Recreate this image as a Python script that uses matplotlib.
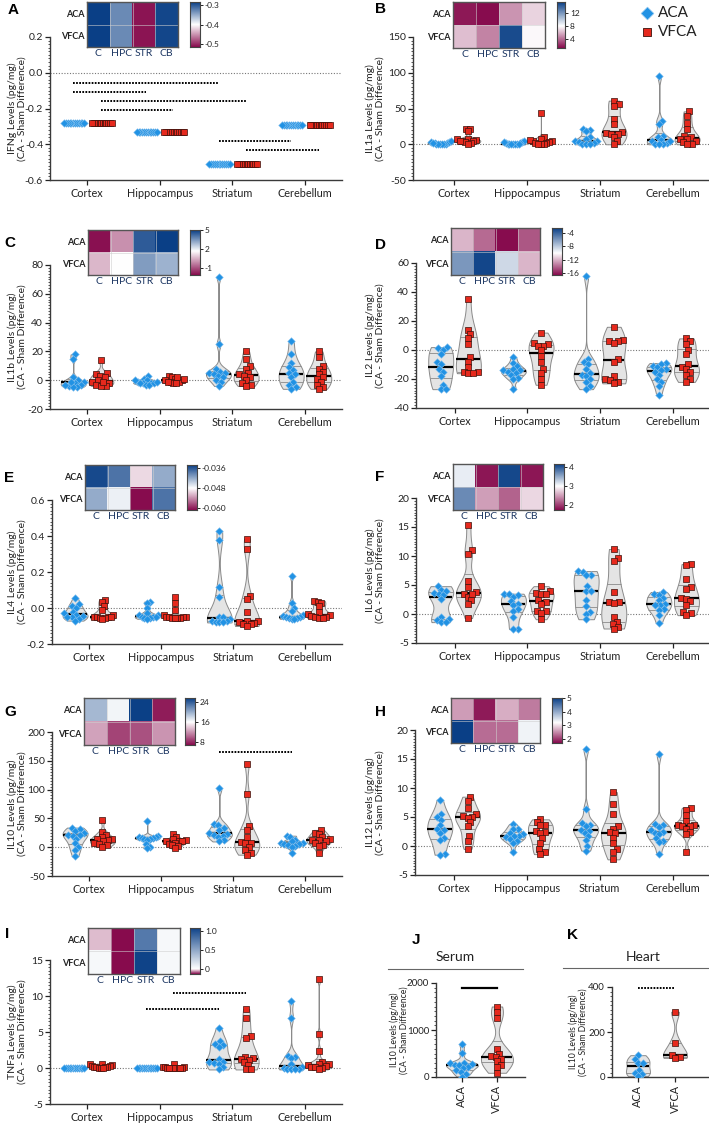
import numpy as np
import matplotlib
matplotlib.use("Agg")
import matplotlib.pyplot as plt
from matplotlib.colors import LinearSegmentedColormap, TwoSlopeNorm
from matplotlib.ticker import AutoMinorLocator

plt.rcParams["font.family"] = ["Lato", "DejaVu Sans"]
plt.rcParams["axes.unicode_minus"] = False

regions = ["Cortex", "Hippocampus", "Striatum", "Cerebellum"]
heat_cols = ["C", "HPC", "STR", "CB"]
heat_rows = ["ACA", "VFCA"]

# A  IFNg (rows = Cortex, Hippocampus, Striatum, Cerebellum)
ifng_aca = [[-0.28, -0.28, -0.28, -0.28, -0.28, -0.28, -0.28, -0.28, -0.28, -0.28, -0.28, -0.28],
            [-0.33, -0.33, -0.33, -0.33, -0.33, -0.33, -0.33, -0.33, -0.33, -0.33, -0.33, -0.33],
            [-0.51, -0.51, -0.51, -0.51, -0.51, -0.51, -0.51, -0.51, -0.51, -0.51, -0.51, -0.51],
            [-0.29, -0.29, -0.29, -0.29, -0.29, -0.29, -0.29, -0.29, -0.29, -0.29, -0.29, -0.29]]
ifng_vfca = [[-0.28, -0.28, -0.28, -0.28, -0.28, -0.28, -0.28, -0.28, -0.28, -0.28, -0.28, -0.28],
             [-0.33, -0.33, -0.33, -0.33, -0.33, -0.33, -0.33, -0.33, -0.33, -0.33, -0.33, -0.33],
             [-0.51, -0.51, -0.51, -0.51, -0.51, -0.51, -0.51, -0.51, -0.51, -0.51, -0.51, -0.51],
             [-0.29, -0.29, -0.29, -0.29, -0.29, -0.29, -0.29, -0.29, -0.29, -0.29, -0.29, -0.29]]
heat_ifng = [[-0.28, -0.33, -0.51, -0.29], [-0.28, -0.33, -0.51, -0.29]]
# group index: 0 C-ACA, 1 C-VFCA, 2 HPC-ACA, 3 HPC-VFCA, 4 STR-ACA, 5 STR-VFCA, 6 CB-ACA, 7 CB-VFCA
sig_ifng = [(0, 4, -0.056), (0, 2, -0.107), (1, 5, -0.159), (1, 3, -0.21), (4, 6, -0.38), (5, 7, -0.43)]

# B  IL1a
il1a_aca = [[0, 1, 2, 3, 1, 0, 2, 4, 1, 3, 0, 2],
            [0, 1, 2, 3, 4, 1, 0, 2, 1, 3, 0, 1],
            [22, 20, 18, 10, 8, 5, 4, 3, 2, 1, 0, 0],
            [95, 33, 29, 12, 10, 6, 4, 2, 1, 0, 0, 5]]
il1a_vfca = [[22, 21, 18, 8, 6, 5, 4, 3, 2, 1, 7, 5],
             [44, 10, 8, 5, 4, 3, 2, 1, 0, 6, 2, 1],
             [61, 56, 54, 35, 28, 17, 16, 15, 14, 10, 5, 0],
             [46, 40, 30, 22, 12, 10, 8, 7, 5, 3, 1, 0]]
heat_il1a = [[1.5, 1.2, 5.0, 6.8], [6.2, 4.5, 15.0, 7.8]]

# C  IL1b
il1b_aca = [[18, 15, 2, 0, -1, -2, -3, -4, -5, -5, -3, -1],
            [3, 1, 0, -1, -2, -2, -3, -3, -2, -1, 0, -2],
            [72, 25, 8, 6, 5, 5, 4, 3, 2, 0, -1, -4],
            [27, 18, 12, 9, 7, 5, 4, 2, -1, -3, -5, -6]]
il1b_vfca = [[14, 5, 4, 3, 2, 0, -1, -2, -3, -4, -4, -1],
             [3, 2, 1, 0, -1, -1, -2, -2, 0, 1, -1, 2],
             [20, 15, 10, 8, 5, 4, 3, 2, 0, -2, -3, -4],
             [20, 16, 10, 8, 6, 4, 2, 1, -1, -3, -5, -6]]
heat_il1b = [[-2.0, 0.0, 4.5, 5.0], [0.6, 1.7, 3.4, 3.0]]

# D  IL2
il2_aca = [[2, 1.5, 0, -3, -8, -10, -13, -15, -18, -24, -27, -27],
           [-5, -9, -11, -13, -14, -14, -15, -16, -17, -19, -20, -27],
           [51, -6, -8, -10, -13, -16, -17, -18, -20, -22, -25, -27],
           [-9, -10, -11, -12, -13, -14, -15, -17, -20, -22, -25, -31]]
il2_vfca = [[35, 14, 11, 8, 4, -5, -8, -12, -15, -15, -16, -16],
            [12, 5, 4, 3, 3, 0, -4, -8, -13, -16, -20, -24],
            [16, 7, 6, 6, 5, -6, -8, -18, -20, -21, -22, -23],
            [8, 6, 4, 0, -3, -10, -12, -13, -15, -17, -20, -22]]
heat_il2 = [[-12.0, -14.0, -16.5, -14.5], [-6.0, -2.8, -8.5, -12.0]]

# E  IL4
il4_aca = [[0.055, 0.02, 0.01, 0.0, -0.02, -0.03, -0.04, -0.045, -0.05, -0.05, -0.06, -0.07],
           [0.035, 0.03, 0.0, -0.03, -0.04, -0.04, -0.05, -0.05, -0.05, -0.055, -0.055, -0.06],
           [0.43, 0.38, 0.115, 0.06, -0.05, -0.05, -0.06, -0.07, -0.07, -0.075, -0.08, -0.08],
           [0.18, 0.03, 0.0, -0.015, -0.04, -0.045, -0.05, -0.05, -0.055, -0.055, -0.06, -0.06]]
il4_vfca = [[0.045, 0.035, 0.01, -0.01, -0.04, -0.05, -0.05, -0.05, -0.05, -0.055, -0.055, -0.06],
            [0.06, 0.03, -0.01, -0.04, -0.05, -0.05, -0.05, -0.05, -0.055, -0.055, -0.055, -0.055],
            [0.385, 0.33, 0.065, 0.05, -0.02, -0.07, -0.07, -0.08, -0.085, -0.09, -0.09, -0.1],
            [0.04, 0.035, 0.03, 0.01, -0.02, -0.035, -0.04, -0.045, -0.05, -0.05, -0.055, -0.055]]
heat_il4 = [[-0.035, -0.038, -0.050, -0.042], [-0.042, -0.047, -0.061, -0.038]]

# F  IL6
il6_aca = [[4.8, 4.2, 4.0, 3.7, 3.5, 3.3, 2.6, -0.5, -0.8, -1.0, -1.4, -1.4],
           [3.5, 3.4, 3.2, 3.0, 2.2, 1.8, 1.5, 0.8, 0.6, -0.5, -2.5, -2.6],
           [7.4, 7.3, 6.8, 6.7, 4.8, 4.0, 4.0, 2.4, 1.4, 0.4, 0.0, -0.9],
           [3.8, 3.4, 3.3, 2.8, 2.4, 1.8, 1.5, 1.5, 0.8, 0.7, -0.2, -1.5]]
il6_vfca = [[15.3, 11.0, 10.4, 5.7, 4.7, 3.8, 3.5, 3.0, 2.4, 1.7, -0.7, 3.4],
            [4.8, 4.0, 3.7, 3.5, 3.5, 2.5, 2.1, 1.8, 0.6, 0.5, 0.2, -0.9],
            [11.2, 9.6, 9.1, 3.8, 2.1, 2.0, 1.9, -0.5, -1.3, -1.7, -2.2, -2.5],
            [8.6, 8.4, 6.0, 4.7, 4.3, 2.8, 2.6, 2.2, 1.6, 0.4, 0.1, -0.2]]
heat_il6 = [[3.1, 1.8, 4.1, 1.8], [3.7, 2.5, 2.2, 2.8]]

# G  IL10
il10_aca = [[34, 31, 28, 24, 22, 21, 20, 15, 7, 1, -5, -16],
            [45, 20, 18, 17, 16, 16, 15, 14, 13, 5, 0, -2],
            [102, 41, 38, 34, 30, 25, 23, 22, 20, 18, 12, 10],
            [20, 18, 13, 10, 8, 7, 6, 5, 4, 2, 0, -10]]
il10_vfca = [[47, 27, 22, 18, 15, 14, 12, 10, 7, 6, 3, 1],
             [23, 18, 14, 12, 11, 10, 10, 8, 6, 4, 2, -2],
             [145, 93, 37, 30, 18, 9, 8, 7, 1, -5, -10, -13],
             [30, 25, 23, 18, 15, 13, 13, 10, 7, 4, 2, -10]]
heat_il10 = [[19.5, 16.5, 25.5, 7.5], [12.5, 9.0, 9.5, 12.0]]
sig_il10 = [(4, 6, 166)]

# H  IL12
il12_aca = [[8.0, 5.5, 5.0, 4.5, 3.7, 3.0, 2.8, 2.3, 1.3, 1.0, -1.4, -1.5],
            [3.8, 3.0, 2.9, 2.2, 2.0, 1.8, 1.7, 1.5, 1.2, 0.9, 0.5, -1.1],
            [16.7, 6.3, 4.0, 3.6, 3.4, 2.8, 2.6, 2.3, 1.7, 1.0, 0.0, -0.8],
            [15.8, 3.8, 3.7, 3.3, 2.8, 2.5, 2.3, 2.0, 1.4, 0.9, 0.7, -1.3]]
il12_vfca = [[8.5, 7.8, 6.6, 5.6, 5.2, 5.0, 4.9, 4.1, 3.4, 1.7, 0.9, -0.5],
             [4.6, 4.1, 3.7, 3.6, 2.6, 2.4, 2.2, 1.4, 0.6, -0.6, -1.1, -1.4],
             [9.3, 7.2, 5.5, 3.4, 3.0, 2.4, 2.2, 1.4, 0.5, -0.5, -1.1, -2.3],
             [6.6, 6.2, 5.3, 4.3, 3.7, 3.6, 3.4, 3.4, 2.9, 2.5, 2.0, -1.0]]
heat_il12 = [[2.6, 1.8, 2.7, 2.4], [5.0, 2.3, 2.3, 3.3]]

# I  TNFa
tnfa_aca = [[0.0, 0.0, 0.0, 0.0, 0.0, 0.0, 0.0, 0.0, 0.0, 0.0, 0.0, 0.0],
            [0.0, 0.0, 0.0, 0.0, 0.0, 0.0, 0.0, 0.0, 0.0, 0.0, 0.0, 0.0],
            [5.5, 3.7, 3.4, 3.2, 2.9, 1.3, 0.9, 0.8, 0.7, 0.6, 0.1, -0.2],
            [9.3, 7.0, 1.7, 1.5, 1.4, 0.5, 0.1, 0.0, -0.1, -0.2, -0.2, -0.2]]
tnfa_vfca = [[0.6, 0.5, 0.4, 0.3, 0.3, 0.2, 0.2, 0.1, 0.1, 0.0, 0.0, 0.0],
             [0.6, 0.2, 0.1, 0.1, 0.0, 0.0, 0.0, 0.0, 0.0, 0.0, 0.0, 0.0],
             [8.2, 6.9, 4.4, 4.2, 1.5, 1.4, 1.2, 1.1, 0.8, 0.4, -0.2, -0.2],
             [12.4, 4.7, 2.4, 0.8, 0.6, 0.5, 0.4, 0.3, 0.2, 0.1, 0.0, -0.2]]
heat_tnfa = [[-0.035, -0.13, 0.75, 0.04], [0.04, -0.13, 1.05, 0.04]]
sig_tnfa = [(3, 5, 10.45), (2, 4, 8.18)]

# J / K  IL10 in serum and heart
serum_aca = [700, 510, 300, 290, 270, 265, 260, 220, 200, 140, 110, 70, 10]
serum_vfca = [1500, 1380, 1260, 590, 500, 440, 430, 380, 330, 260, 210, 90]
heart_aca = [97, 80, 64, 64, 33, 20, 12, 4]
heart_vfca = [290, 150, 100, 90, 85]

W, H = 709, 1124
fig = plt.figure(figsize=(W / 100, H / 100), dpi=100)
ACA_C, ACA_E = "#2192e4", "#8cc4ee"
VF_C, VF_E = "#e6291d", "#3a120c"
cmap = LinearSegmentedColormap.from_list("pw", ["#870b4d", "#ffffff", "#0a3f86"])

ov = fig.add_axes([0, 0, 1, 1])
ov.set_xlim(0, W)
ov.set_ylim(H, 0)
ov.axis("off")


def px_axes(x0, ytop, x1, ybot):
    return fig.add_axes([x0 / W, 1 - ybot / H, (x1 - x0) / W, (ybot - ytop) / H])


def px_per_unit(ax):
    a = ax.transData.transform([[0, 0], [1, 1]])
    return a[1, 0] - a[0, 0]


def violin(ax, x, vals, halfw):
    v = np.asarray(vals, float)
    lo, hi = v.min(), v.max()
    if hi - lo < 1e-12:
        return
    q1, med, q3 = np.percentile(v, [25, 50, 75])
    sd = v.std(ddof=1)
    iqr = (q3 - q1) / 1.34
    sig = min(sd, iqr) if iqr > 0 else sd
    bw = max(1.0 * sig * len(v) ** -0.2, (hi - lo) * 0.04)
    ys = np.linspace(lo, hi, 300)
    dens = np.exp(-0.5 * ((ys[:, None] - v[None, :]) / bw) ** 2).sum(1)
    w = dens / dens.max() * halfw
    ax.fill_betweenx(ys, x - w, x + w, facecolor="#e4e4e4", edgecolor="#8a8a8a", lw=0.7, zorder=1)
    for q, lw, c in [(q1, 0.6, "#8a8a8a"), (q3, 0.6, "#8a8a8a"), (med, 1.6, "black")]:
        wq = np.interp(q, ys, w)
        ax.plot([x - wq, x + wq], [q, q], color=c, lw=lw, zorder=2, solid_capstyle="butt")


def swarm(ax, x, vals, d=4.8, maxw=11.0):
    v = np.asarray(vals, float)
    pts = ax.transData.transform(np.column_stack([np.full_like(v, x), v]))
    ypx = pts[:, 1]
    offs = np.zeros(len(v))
    placed = []
    for i in np.argsort(ypx):
        cands = [0.0]
        for ox, oy in placed:
            dy = ypx[i] - oy
            if abs(dy) < d:
                dx = np.sqrt(d * d - dy * dy)
                cands += [ox + dx, ox - dx]
        cands.sort(key=abs)
        for c in cands:
            if all((c - ox) ** 2 + (ypx[i] - oy) ** 2 >= d * d - 1e-6 for ox, oy in placed):
                offs[i] = c
                break
        placed.append((offs[i], ypx[i]))
    m = np.abs(offs).max()
    if m > maxw:
        offs *= maxw / m
    back = ax.transData.inverted().transform(np.column_stack([pts[:, 0] + offs, ypx]))
    return back[:, 0], v


def style(ax, yticks, fmt, fs=7.5):
    for s in ["top", "right"]:
        ax.spines[s].set_visible(False)
    for s in ["left", "bottom"]:
        ax.spines[s].set_color("#3a3a3a")
        ax.spines[s].set_linewidth(1.0)
    ax.set_yticks(yticks)
    ax.set_yticklabels([fmt.format(t) for t in yticks], fontsize=fs)
    ax.yaxis.set_minor_locator(AutoMinorLocator(10))
    ax.tick_params(axis="y", which="major", length=3.5, width=0.9, pad=1.5, colors="#222")
    ax.tick_params(axis="y", which="minor", length=1.6, width=0.6, color="#3a3a3a")
    ax.tick_params(axis="x", length=3.5, width=0.9, pad=2, colors="#222")
    ax.patch.set_visible(False)


def groups(ax, xs_pairs, halfw_px, maxw):
    pxu = px_per_unit(ax)
    for x, vals, kind in xs_pairs:
        violin(ax, x, vals, halfw_px / pxu)
        xs, ys = swarm(ax, x, vals, maxw=maxw)
        if kind == "aca":
            ax.scatter(xs, ys, marker="D", s=15, c=ACA_C, edgecolors=ACA_E, linewidths=0.4, zorder=3)
        else:
            ax.scatter(xs, ys, marker="s", s=13, c=VF_C, edgecolors=VF_E, linewidths=0.5, zorder=3)


def gx(g):
    return g // 2 + (-0.19 if g % 2 == 0 else 0.19)


def main_panel(rect, xl, aca, vfca, ylim, yticks, fmt, sig=()):
    ax = px_axes(*rect)
    ax.set_xlim(*xl)
    ax.set_ylim(*ylim)
    style(ax, yticks, fmt)
    ax.set_xticks(range(4))
    ax.set_xticklabels(regions, fontsize=7.8)
    ax.axhline(0, color="#777", lw=0.8, ls=(0, (1, 1.5)), zorder=0)
    pairs = []
    for i in range(4):
        pairs.append((i - 0.19, aca[i], "aca"))
        pairs.append((i + 0.19, vfca[i], "vfca"))
    groups(ax, pairs, 12.5, 11.0)
    for g0, g1, y in sig:
        ax.plot([gx(g0), gx(g1)], [y, y], color="black", lw=1.4, ls=(0, (0.9, 0.7)), zorder=4)
    return ax


def heatmap(hrect, crect, vals, vmin, vcen, vmax, ticks, labels):
    hax = px_axes(*hrect)
    norm = TwoSlopeNorm(vcenter=vcen, vmin=vmin, vmax=vmax)
    hax.imshow(np.asarray(vals), cmap=cmap, norm=norm, aspect="auto",
               extent=(-0.5, 3.5, 1.5, -0.5), interpolation="nearest")
    for k in [0.5, 1.5, 2.5]:
        hax.axvline(k, color="#cfcfcf", lw=0.4)
    hax.axhline(0.5, color="#cfcfcf", lw=0.4)
    hax.set_xticks(range(4))
    hax.set_xticklabels(heat_cols, fontsize=7.5, color="#1d3763")
    hax.set_yticks([0, 1])
    hax.set_yticklabels(heat_rows, fontsize=6.5, fontweight="bold", color="#222")
    hax.tick_params(length=0, pad=1.5)
    for s in hax.spines.values():
        s.set_color("#555")
        s.set_linewidth(1.0)
    cax = px_axes(*crect)
    g = np.linspace(vmin, vmax, 256)
    cax.imshow(g[:, None], cmap=cmap, norm=norm, aspect="auto", origin="lower",
               extent=(0, 1, vmin, vmax))
    cax.set_xticks([])
    cax.yaxis.tick_right()
    cax.set_yticks(ticks)
    cax.set_yticklabels(labels, fontsize=6, color="#222")
    cax.tick_params(axis="y", length=2, width=0.6, pad=1.5)
    for s in cax.spines.values():
        s.set_color("#444")
        s.set_linewidth(0.8)


def ylab(x, y, name, size=7.5):
    ov.text(x, y, name + " Levels (pg/mg)\n(CA - Sham Difference)", rotation=90, ha="center",
            va="center", fontsize=size, linespacing=1.1, multialignment="center", color="#222")


def letter(x, y, s):
    ov.text(x, y, s, ha="center", va="center", fontsize=11, fontweight="bold",
            family=["Liberation Sans", "DejaVu Sans"])


LX = (-0.51, 3.51)
RX = (-0.53, 3.5)
specs = [
    ("A", (50, 37, 342, 180), LX, ifng_aca, ifng_vfca, (-0.6, 0.2), [-0.6, -0.4, -0.2, 0.0, 0.2], "{:.1f}", sig_ifng,
     "IFNg", (13, 10), 17, (87, 2, 178, 47), (190, 2, 200, 47), heat_ifng, (-0.515, -0.40, -0.285),
     [-0.3, -0.4, -0.5], ["-0.3", "-0.4", "-0.5"]),
    ("B", (413, 37, 709, 180), (-0.56, 3.49), il1a_aca, il1a_vfca, (-50, 150), [-50, 0, 50, 100, 150], "{:.0f}", (),
     "IL1a", (380, 9), 375, (453, 2, 545, 48), (557, 2, 565, 48), heat_il1a, (1.1, 8.0, 15.5),
     [4, 8, 12], ["4", "8", "12"]),
    ("C", (50, 265, 342, 409), LX, il1b_aca, il1b_vfca, (-20, 80), [-20, 0, 20, 40, 60, 80], "{:.0f}", (),
     "IL1b", (10, 243), 17, (88, 230, 178, 275), (190, 230, 200, 275), heat_il1b, (-2.1, 1.7, 5.0),
     [-1, 2, 5], ["-1", "2", "5"]),
    ("D", (416, 263, 709, 408), RX, il2_aca, il2_vfca, (-40, 60), [-40, -20, 0, 20, 40, 60], "{:.0f}", (),
     "IL2", (380, 245), 375, (451, 228, 540, 275), (552, 228, 562, 275), heat_il2, (-16.6, -10.0, -2.5),
     [-16, -12, -8, -4], ["-16", "-12", "-8", "-4"]),
    ("E", (52, 500, 342, 644), LX, il4_aca, il4_vfca, (-0.2, 0.6), [-0.2, 0.0, 0.2, 0.4, 0.6], "{:.1f}", (),
     "IL4", (9, 478), 17, (85, 465, 175, 510), (187, 465, 197, 510), heat_il4, (-0.0612, -0.048, -0.0342),
     [-0.060, -0.048, -0.036], ["-0.060", "-0.048", "-0.036"]),
    ("F", (416, 498, 709, 643), RX, il6_aca, il6_vfca, (-5, 20), [-5, 0, 5, 10, 15, 20], "{:.0f}", (),
     "IL6", (380, 477), 375, (453, 464, 543, 510), (554, 464, 564, 510), heat_il6, (1.74, 3.0, 4.16),
     [2, 3, 4], ["2", "3", "4"]),
    ("G", (52, 732, 342, 876), LX, il10_aca, il10_vfca, (-50, 200), [-50, 0, 50, 100, 150, 200], "{:.0f}", sig_il10,
     "IL10", (10, 712), 17, (84, 698, 175, 745), (185, 698, 195, 745), heat_il10, (6.8, 16.0, 25.6),
     [8, 16, 24], ["8", "16", "24"]),
    ("H", (415, 730, 709, 875), RX, il12_aca, il12_vfca, (-5, 20), [-5, 0, 5, 10, 15, 20], "{:.0f}", (),
     "IL12", (380, 712), 375, (451, 698, 540, 743), (552, 698, 562, 743), heat_il12, (1.7, 3.2, 5.0),
     [2, 3, 4, 5], ["2", "3", "4", "5"]),
    ("I", (50, 960, 342, 1104), LX, tnfa_aca, tnfa_vfca, (-5, 15), [-5, 0, 5, 10, 15], "{:.0f}", sig_tnfa,
     "TNFa", (7, 934), 17, (88, 928, 180, 974), (190, 928, 200, 974), heat_tnfa, (-0.13, 0.0, 1.08),
     [0, 0.5, 1.0], ["0", "0.5", "1.0"]),
]

for (let, rect, xl, aca, vfca, ylim, yt, fmt, sig, name, lpos, labx, hrect, crect, hv, nrm, ct, cl) in specs:
    main_panel(rect, xl, aca, vfca, ylim, yt, fmt, sig)
    heatmap(hrect, crect, hv, nrm[0], nrm[1], nrm[2], ct, cl)
    letter(lpos[0], lpos[1], let)
    ylab(labx, (rect[1] + rect[3]) / 2, name)

# legend (panel B)
ov.scatter([647], [13], marker="D", s=42, c=ACA_C, edgecolors=ACA_E, linewidths=0.5)
ov.text(658, 13, "ACA", fontsize=11, va="center", ha="left", color="#222")
ov.scatter([647], [32], marker="s", s=36, c=VF_C, edgecolors=VF_E, linewidths=0.6)
ov.text(658, 32, "VFCA", fontsize=11, va="center", ha="left", color="#222")


def pair_panel(rect, xl, aca, vfca, ylim, yticks, sig, solid):
    ax = px_axes(*rect)
    ax.set_xlim(*xl)
    ax.set_ylim(*ylim)
    style(ax, yticks, "{:.0f}", fs=7)
    ax.set_xticks([0, 1])
    ax.set_xticklabels(["ACA", "VFCA"], rotation=90, fontsize=7.8)
    pxu = px_per_unit(ax)
    halfw = 16.0 if pxu < 36 else 12.0
    groups(ax, [(0, aca, "aca"), (1, vfca, "vfca")], halfw, halfw - 1)
    ax.plot([0, 1], [sig, sig], color="black", lw=1.6 if solid else 1.4,
            ls="-" if solid else (0, (0.9, 0.7)), zorder=4)
    return ax


pair_panel((436, 983, 525, 1077), (-0.74, 1.8), serum_aca, serum_vfca, (0, 2000), [0, 1000, 2000], 1890, True)
pair_panel((612, 987, 708, 1077), (-0.7, 1.89), heart_aca, heart_vfca, (0, 400), [0, 200, 400], 395, False)

ov.text(455, 957, "Serum", ha="center", va="center", fontsize=10, color="#222")
ov.plot([388, 523], [969, 969], color="#666", lw=0.8)
ov.text(643, 957, "Heart", ha="center", va="center", fontsize=10, color="#222")
ov.plot([563, 709], [968, 968], color="#666", lw=0.8)
letter(416, 940, "J")
letter(573, 935, "K")
ylab(399, 1030, "IL10", size=6.2)
ylab(578, 1032, "IL10", size=6.2)

fig.savefig("out.png", dpi=100)
